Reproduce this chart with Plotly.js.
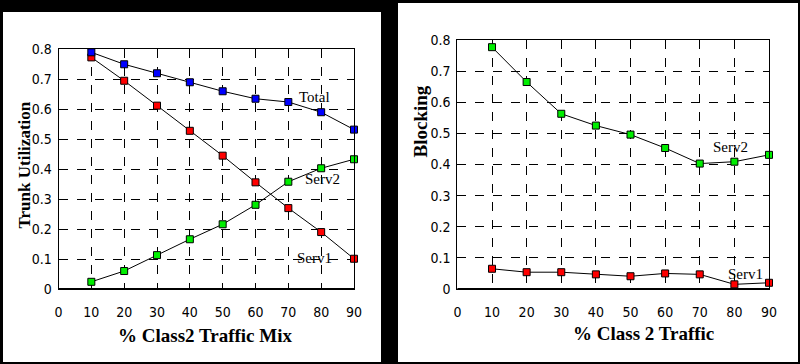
<!DOCTYPE html>
<html>
<head>
<meta charset="utf-8">
<script src="https://cdn.plot.ly/plotly-3.0.1.min.js"></script>
<style>html,body{margin:0;padding:0;background:#000;}#chart{width:800px;height:364px;}</style>
</head>
<body>
<div id="chart"></div>
<script>
// ---- data ----
const mixPct = [10, 20, 30, 40, 50, 60, 70, 80, 90];
const utilTotal = [0.79, 0.75, 0.72, 0.69, 0.66, 0.635, 0.624, 0.59, 0.532];
const utilServ1 = [0.773, 0.695, 0.612, 0.528, 0.445, 0.356, 0.27, 0.19, 0.101];
const utilServ2 = [0.024, 0.06, 0.113, 0.166, 0.216, 0.281, 0.358, 0.403, 0.433];

const class2Pct = [10, 20, 30, 40, 50, 60, 70, 80, 90];
const blockServ2 = [0.777, 0.665, 0.563, 0.525, 0.496, 0.453, 0.403, 0.409, 0.431];
const blockServ1 = [0.065, 0.054, 0.054, 0.047, 0.041, 0.05, 0.047, 0.015, 0.02];

const xTicks = [0, 10, 20, 30, 40, 50, 60, 70, 80, 90];
const yTicks = [0, 0.1, 0.2, 0.3, 0.4, 0.5, 0.6, 0.7, 0.8];
const yTickText = ['0', '0.1', '0.2', '0.3', '0.4', '0.5', '0.6', '0.7', '0.8'];

// ---- helpers ----
const W = 800, H = 364;
const px = v => v / W;
const py = v => 1 - v / H;

function series(x, y, color, xa, ya) {
  return {
    x: x, y: y, xaxis: xa, yaxis: ya, type: 'scatter', mode: 'lines+markers',
    line: {color: '#000', width: 1},
    marker: {symbol: 'square', size: 7, color: color, line: {color: '#000', width: 1}},
    cliponaxis: false, showlegend: false, hoverinfo: 'skip'
  };
}

const traces = [
  series(mixPct, utilServ2, '#00ee00', 'x', 'y'),
  series(mixPct, utilServ1, '#ff0000', 'x', 'y'),
  series(mixPct, utilTotal, '#0000ff', 'x', 'y'),
  series(class2Pct, blockServ1, '#ff0000', 'x2', 'y2'),
  series(class2Pct, blockServ2, '#00ee00', 'x2', 'y2')
];

const tickFont = {family: '"Liberation Sans Narrow", "DejaVu Sans Condensed", sans-serif', size: 14, color: '#000'};

function xAxis(domain, anchor) {
  return {
    domain: domain, anchor: anchor, range: [0, 90], tickvals: xTicks, ticktext: xTicks.map(String),
    showgrid: true, gridcolor: '#000', griddash: 'dash', gridwidth: 1,
    showline: true, linecolor: '#000', linewidth: 1, mirror: true,
    zeroline: false, ticks: '', ticklabelstandoff: 10, tickfont: tickFont, fixedrange: true
  };
}
function yAxis(domain, anchor) {
  return {
    domain: domain, anchor: anchor, range: [0, 0.8], tickvals: yTicks, ticktext: yTickText,
    showgrid: true, gridcolor: '#000', griddash: 'dash', gridwidth: 1,
    showline: true, linecolor: '#000', linewidth: 1, mirror: true,
    zeroline: false, ticks: '', ticklabelstandoff: 3, tickfont: tickFont, fixedrange: true
  };
}

const titleFont = {family: '"Liberation Serif", "Times New Roman", serif', size: 19, color: '#000'};
const yTitleFontLeft = {family: '"Liberation Serif", "Times New Roman", serif', size: 17, color: '#000'};
const labelFont = {family: '"Liberation Serif", "Times New Roman", serif', size: 15, color: '#000'};

function ann(text, x, y, xref, yref, font, extra) {
  return Object.assign({text: text, x: x, y: y, xref: xref, yref: yref, showarrow: false, font: font,
    xanchor: 'center', yanchor: 'middle'}, extra || {});
}

const layout = {
  width: W, height: H,
  margin: {l: 0, r: 0, t: 0, b: 0, pad: 0},
  paper_bgcolor: '#000', plot_bgcolor: 'rgba(0,0,0,0)',
  showlegend: false,
  xaxis: xAxis([px(58.5), px(354)], 'y'),
  yaxis: yAxis([py(289), py(49.3)], 'x'),
  xaxis2: xAxis([px(457.4), px(769)], 'y2'),
  yaxis2: yAxis([py(289), py(40)], 'x2'),
  shapes: [
    {type: 'rect', xref: 'paper', yref: 'paper', x0: px(3), x1: px(381), y0: py(362), y1: py(12),
     fillcolor: '#fff', line: {width: 0}, layer: 'below'},
    {type: 'rect', xref: 'paper', yref: 'paper', x0: px(398), x1: px(798), y0: py(362), y1: py(3),
     fillcolor: '#fff', line: {width: 0}, layer: 'below'},
    {type: 'line', xref: 'x domain', yref: 'y', x0: 0, x1: 1, y0: 0, y1: 0, line: {color: '#000', width: 2}},
    {type: 'line', xref: 'x2 domain', yref: 'y2', x0: 0, x1: 1, y0: 0, y1: 0, line: {color: '#000', width: 2}}
  ],
  annotations: [
    ann('<b>% Class2 Traffic Mix</b>', px(205), py(335), 'paper', 'paper', titleFont),
    ann('<b>Trunk Utilization</b>', px(24.5), py(165), 'paper', 'paper', yTitleFontLeft, {textangle: -90}),
    ann('<b>% Class 2 Traffic</b>', px(643), py(333), 'paper', 'paper', titleFont),
    ann('<b>Blocking</b>', px(420), py(121.5), 'paper', 'paper', titleFont, {textangle: -90}),
    ann('Total', 77.9, 0.64, 'x', 'y', labelFont),
    ann('Serv2', 80.3, 0.367, 'x', 'y', labelFont),
    ann('Serv1', 77.9, 0.104, 'x', 'y', labelFont),
    ann('Serv2', 78.8, 0.457, 'x2', 'y2', labelFont),
    ann('Serv1', 83.1, 0.047, 'x2', 'y2', labelFont)
  ]
};

Plotly.newPlot('chart', traces, layout, {staticPlot: true, displayModeBar: false});
</script>
</body>
</html>
